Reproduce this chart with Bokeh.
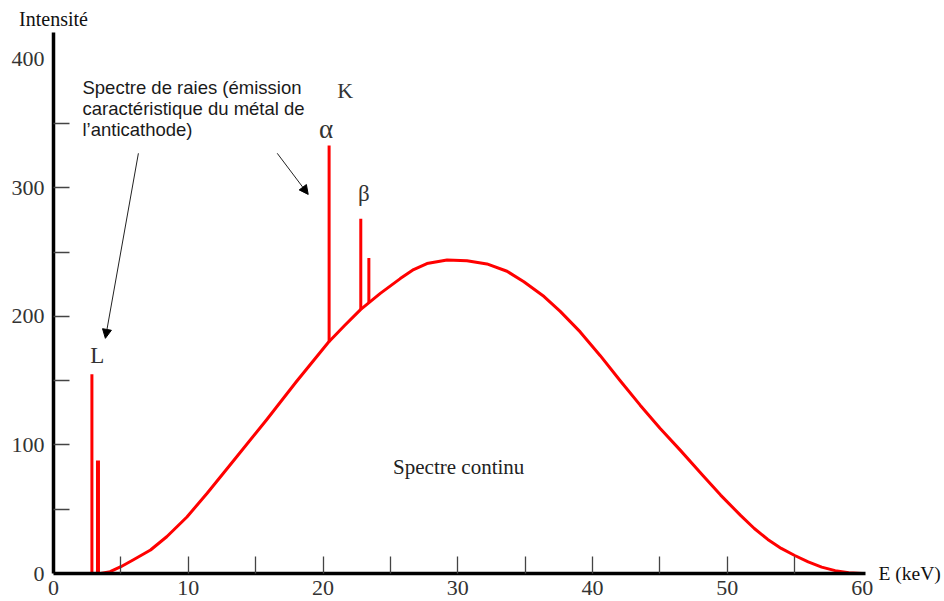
from bokeh.plotting import figure
from bokeh.models import Range1d, FixedTicker, LinearAxis, Arrow, NormalHead, ColumnDataSource
from bokeh.core.properties import value
from bokeh.embed import file_html
from bokeh.resources import INLINE

# Continuous spectrum (Bremsstrahlung)
energy = [3.5, 4.2, 5.0, 5.9, 7.2, 8.4, 9.9, 11.4, 13.4, 15.8, 18.0, 20.4, 21.6, 22.8,
          24.25, 25.73, 26.72, 27.71, 29.2, 30.68, 32.16, 33.65, 34.9, 36.4,
          37.6, 39.08, 40.57, 42.05, 43.53, 45.0, 46.5, 48.2, 49.5, 51.0, 52.0,
          53.0, 54.0, 55.0, 56.0, 57.0, 58.0, 59.0, 60.0]
intensity = [0, 1.4, 5.3, 10.5, 18.3, 28.6, 44, 62.4, 88.3, 119.5, 149, 180, 193, 205.5,
             218, 229.5, 236.5, 241.2, 244, 243.4, 240.9, 235.2, 227, 215.5,
             204, 188, 169.5, 150, 131, 113, 96, 76, 61, 45, 35,
             26.5, 19.5, 14, 9, 5, 2.2, 0.6, 0]

# Characteristic lines (L, L, K-alpha, K-beta, K-beta)
line_energy = [2.85, 3.3, 20.45, 22.8, 23.4]
line_base = [0, 0, 180, 205.5, 211]
line_peak = [155, 88, 333, 276, 245.5]
line_width = [3, 4, 3, 3, 3]

# Axis ticks
x_ticks = [0, 10, 20, 30, 40, 50, 60]
x_minor = [5, 10, 15, 20, 25, 30, 35, 40, 45, 50, 55]
y_ticks = [0, 100, 200, 300, 400]
y_minor = [50, 100, 150, 200, 250, 300, 350]

y_title = "Intensité"
x_title = "E (keV)"

# Texts
note_lines = ["Spectre de raies (émission", "caractéristique du métal de", "l\u2019anticathode)"]
note_x = [2.15, 2.15, 2.15]
note_y = [378.5, 362.0, 345.5]

greek_text = ["K", "\u03b1", "\u03b2", "L"]
greek_x = [21.05, 19.7, 22.6, 2.72]
greek_y = [375.5, 346, 296, 169.5]
greek_size = ["22px", "27px", "23px", "23px"]

p = figure(width=944, height=601,
           x_range=Range1d(0, 60.25), y_range=Range1d(0, 421.0),
           output_backend="svg", toolbar_location=None,
           min_border_left=53, min_border_right=79, min_border_top=32, min_border_bottom=28)
p.xgrid.visible = False
p.ygrid.visible = False
p.outline_line_color = None
p.background_fill_color = "white"
p.border_fill_color = "white"

p.xaxis.ticker = FixedTicker(ticks=x_ticks, minor_ticks=x_minor)
p.yaxis.ticker = FixedTicker(ticks=y_ticks, minor_ticks=y_minor)
for ax in (p.xaxis[0], p.yaxis[0]):
    ax.axis_line_width = 3.5
    ax.axis_line_color = "black"
    ax.major_tick_line_color = None
    ax.major_tick_in = 0
    ax.major_tick_out = 0
    ax.minor_tick_line_color = "#444444"
    ax.minor_tick_line_width = 1.3
    ax.minor_tick_out = 0
    ax.major_label_text_font = "Liberation Serif"
    ax.major_label_text_font_size = "22px"
    ax.major_label_text_color = "#333333"
p.xaxis.minor_tick_in = 17
p.yaxis.minor_tick_in = 16
p.xaxis.major_label_standoff = 7
p.yaxis.major_label_standoff = 9

# axis titles, placed at the axis ends as in the original
top_axis = LinearAxis(ticker=FixedTicker(ticks=[x_ticks[0]]),
                      major_label_overrides={x_ticks[0]: y_title})
right_axis = LinearAxis(ticker=FixedTicker(ticks=[y_ticks[0]]),
                        major_label_overrides={y_ticks[0]: x_title})
for ax, size, so in ((top_axis, "20px", 3), (right_axis, "19.5px", 13)):
    ax.axis_line_color = None
    ax.major_tick_line_color = None
    ax.minor_tick_line_color = None
    ax.major_tick_in = 0
    ax.major_tick_out = 0
    ax.minor_tick_in = 0
    ax.minor_tick_out = 0
    ax.major_label_standoff = so
    ax.major_label_text_font = "Liberation Serif"
    ax.major_label_text_font_size = size
    ax.major_label_text_color = "#111111"
p.add_layout(top_axis, "above")
p.add_layout(right_axis, "right")

# continuous spectrum
p.line(energy, intensity, line_color="#ff0000", line_width=3, line_join="round")

# characteristic lines
src = ColumnDataSource(dict(x=line_energy, y0=line_base, y1=line_peak, w=line_width))
p.segment(x0="x", y0="y0", x1="x", y1="y1", source=src, line_color="#ff0000", line_width="w")

# annotation text
p.text(x=note_x, y=note_y, text=note_lines, text_font=value("Liberation Sans"),
       text_font_size="18.5px", text_baseline="alphabetic", text_align="left", text_color="#1a1a1a")

gsrc = ColumnDataSource(dict(x=greek_x, y=greek_y, t=greek_text, s=greek_size))
p.text(x="x", y="y", text="t", text_font_size="s", source=gsrc, text_font=value("Liberation Serif"),
       text_baseline="alphabetic", text_align="left", text_color="#333333")

p.text(x=[25.2], y=[83], text=["Spectre continu"], text_font=value("Liberation Serif"),
       text_font_size="21px", text_baseline="alphabetic", text_align="left", text_color="#222222")

# arrows
p.add_layout(Arrow(end=NormalHead(size=9, fill_color="black", line_color="black"),
                   x_start=6.3, y_start=327, x_end=3.85, y_end=183,
                   line_color="#222222", line_width=1))
p.add_layout(Arrow(end=NormalHead(size=9, fill_color="black", line_color="black"),
                   x_start=16.6, y_start=327, x_end=18.9, y_end=295,
                   line_color="#222222", line_width=1))

open("out.html", "w").write(file_html(p, INLINE))
